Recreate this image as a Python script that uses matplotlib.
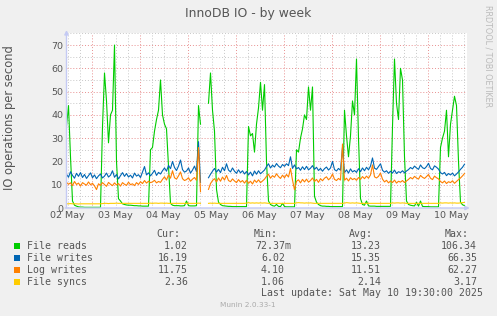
import datetime as dt
import matplotlib
matplotlib.use('Agg')
import matplotlib.pyplot as plt
import matplotlib.dates as mdates
from matplotlib.patches import Rectangle
from matplotlib.ticker import MultipleLocator, FuncFormatter

nan = float('nan')

# hourly samples, first one at 02 May 11:30
START = dt.datetime(2025, 5, 2, 11, 30)
N_HOURS = 200

file_reads = [
    35, 44, 22, 3, 1.2, 0.8, 0.5, 0.4, 0.4, 0.3, 0.3, 0.3, 0.3, 0.3, 0.3, 0.3, 0.3, 0.3, 35, 58, 46, 28, 40, 42,
    70, 20, 4, 3, 1.8, 1.5, 1.3, 1.2, 1.2, 1.1, 1.0, 1.0, 0.9, 0.9, 0.8, 0.8, 0.8, 0.8, 25, 26, 33, 38, 42, 55,
    40, 36, 34, 18, 2, 1.2, 1.0, 1.0, 1.0, 0.9, 0.9, 1.0, 3, 1.0, 0.9, 0.9, 0.9, 1.0, 44, 36, nan, nan, nan, 45,
    58, 42, 33, 8, 2.5, 1.5, 1.0, 0.9, 0.8, 0.7, 0.7, 0.6, 0.6, 0.6, 0.6, 0.6, 0.6, 0.6, 0.6, 35, 31, 32, 24, 36,
    43, 54, 42, 53, 20, 3, 1.5, 1.0, 0.8, 1.5, 0.7, 0.6, 2.0, 0.6, 0.5, 0.5, 0.5, 0.5, 0.5, 25, 24, 30, 34, 40,
    38, 52, 42, 52, 5, 2.5, 1.5, 1.0, 0.8, 0.8, 0.7, 0.7, 0.6, 0.6, 0.6, 0.6, 0.6, 0.6, 0.6, 42, 31, 22, 31, 46,
    40, 64, 30, 4, 1.5, 1.2, 3.0, 0.9, 0.8, 0.8, 0.8, 0.7, 0.7, 0.7, 0.7, 0.7, 0.7, 0.7, 0.7, 35, 64, 45, 38, 60,
    55, 22, 3, 1.5, 1.2, 1.0, 0.9, 2.5, 0.8, 3.0, 0.7, 0.6, 0.6, 0.6, 0.5, 0.5, 0.5, 0.5, 0.5, 26, 30, 33, 42, 22,
    36, 42, 48, 44, 20, 2.5, 1.4, 1.0,
]

file_writes = [
    14.5, 13.2, 15.6, 14.0, 12.8, 14.9, 13.6, 15.2, 13.1, 14.4, 12.7, 13.9, 15.1, 13.0, 14.2, 12.6, 13.8, 14.6, 12.9, 13.7, 15.0, 13.3, 14.1, 16.0,
    13.2, 14.4, 12.5, 13.9, 15.2, 13.6, 14.8, 13.3, 14.1, 12.9, 15.0, 13.7, 14.3, 13.1, 15.4, 17.8, 14.2, 15.1, 13.8, 14.9, 16.2, 14.0, 15.3, 14.6,
    16.0, 17.2, 15.8, 18.3, 16.9, 20.0, 17.4, 16.1, 18.0, 20.6, 16.5, 15.4, 15.9, 17.2, 15.0, 16.3, 18.0, 15.6, 28.5, 11.0, nan, nan, nan, 13.0,
    14.5, 15.8, 17.0, 15.4, 16.6, 15.2, 17.5, 16.0, 19.0, 16.3, 15.5, 17.2, 15.8, 14.9, 16.4, 15.1, 16.0, 14.6, 15.7, 14.2, 15.4, 13.8, 15.9, 14.5,
    16.0, 14.7, 15.5, 16.3, 17.8, 19.0, 17.2, 18.4, 17.6, 19.1, 18.0, 17.3, 18.7, 17.9, 19.0, 18.2, 22.0, 17.0, 18.5, 16.8, 17.4, 16.2, 17.7, 16.5,
    17.9, 16.4, 17.1, 18.2, 16.6, 17.5, 16.1, 17.0, 15.8, 16.9, 17.6, 16.3, 17.2, 20.0, 16.5, 15.9, 17.0, 16.2, 26.0, 15.2, 16.4, 15.0, 16.8, 15.5,
    16.1, 15.3, 16.9, 15.6, 17.2, 16.0, 17.5, 16.4, 18.0, 21.5, 17.1, 16.6, 17.8, 19.0, 16.2, 15.4, 16.0, 14.9, 15.8, 15.0, 16.3, 14.8, 15.6, 15.2,
    16.0, 15.1, 15.9, 16.5, 17.4, 16.8, 18.0, 17.2, 16.6, 18.5, 17.3, 16.9, 17.8, 19.2, 17.0, 16.4, 18.1, 17.5, 16.7, 15.2, 14.6, 15.3, 13.9, 14.8,
    14.2, 15.0, 13.8, 14.6, 15.5, 16.6, 17.5, 18.8,
]

log_writes = [
    11.0, 10.2, 10.8, 9.6, 11.4, 10.1, 10.7, 9.4, 10.9, 10.3, 9.8, 11.2, 10.0, 10.6, 9.5, 7.9, 10.4, 9.7, 10.9, 10.1, 9.3, 11.0, 10.2, 9.6,
    10.8, 9.9, 10.5, 9.4, 10.9, 10.2, 9.7, 11.1, 10.0, 10.4, 9.6, 10.9, 10.1, 11.3, 10.5, 11.8, 10.7, 11.5, 10.9, 11.2, 11.9, 10.8, 11.4, 11.0,
    12.3, 13.4, 12.0, 14.2, 12.8, 16.0, 13.0, 12.4, 13.8, 15.5, 12.6, 11.8, 12.2, 13.0, 11.5, 12.4, 13.1, 11.9, 26.0, 7.0, nan, nan, nan, 8.0,
    10.5, 11.8, 12.6, 11.2, 12.9, 11.5, 13.3, 12.0, 14.0, 11.8, 11.3, 12.5, 11.6, 10.9, 12.2, 11.1, 11.8, 10.7, 11.9, 10.6, 11.5, 10.3, 12.0, 11.0,
    12.1, 10.9, 11.6, 12.4, 13.6, 14.5, 12.8, 13.9, 13.2, 14.7, 13.5, 12.7, 14.1, 13.0, 14.4, 13.3, 17.0, 12.0, 7.8, 11.5, 12.1, 10.8, 12.3, 11.2,
    12.4, 11.1, 11.8, 12.9, 11.4, 12.3, 11.0, 12.6, 11.7, 12.8, 13.4, 12.1, 12.9, 14.6, 12.3, 11.8, 12.7, 12.0, 27.5, 11.9, 12.8, 11.6, 13.0, 12.2,
    12.7, 11.9, 13.1, 12.3, 13.5, 12.6, 13.7, 12.8, 14.2, 18.5, 13.4, 12.9, 13.6, 15.0, 12.4, 11.2, 11.9, 10.8, 11.6, 10.9, 12.0, 10.7, 11.5, 11.1,
    11.8, 10.9, 11.6, 12.3, 13.1, 12.5, 13.6, 12.9, 12.4, 14.0, 13.2, 12.7, 13.5, 14.4, 12.8, 12.2, 13.7, 13.0, 12.5, 11.4, 10.8, 11.6, 10.5, 11.3,
    10.9, 11.7, 10.6, 11.4, 12.2, 12.9, 13.8, 14.8,
]

file_syncs = [
    1.8, 1.8, 1.9, 1.8, 1.8, 1.8, 1.7, 1.8, 1.8, 1.8, 1.8, 1.8, 1.8, 1.8, 1.8, 1.8, 1.8, 1.8, 1.9, 2.0, 2.0, 1.9, 2.0, 2.0,
    2.0, 2.1, 2.0, 2.0, 2.0, 2.0, 2.0, 2.0, 2.0, 2.0, 2.0, 2.0, 2.0, 2.0, 2.0, 2.0, 2.0, 2.0, 2.1, 2.0, 2.1, 2.1, 2.0, 2.1,
    2.1, 2.0, 2.1, 2.0, 2.0, 2.0, 2.0, 2.0, 2.0, 2.0, 2.0, 2.0, 2.0, 2.0, 2.0, 2.0, 2.0, 2.0, 2.1, 2.0, nan, nan, nan, 2.0,
    2.1, 2.0, 2.1, 2.0, 2.0, 2.0, 2.0, 2.0, 2.0, 2.0, 2.0, 2.0, 2.0, 2.0, 2.0, 2.0, 2.0, 2.0, 2.1, 2.3, 2.1, 2.2, 2.1, 2.2,
    2.1, 2.2, 2.1, 2.2, 2.1, 2.0, 2.0, 2.0, 2.0, 2.0, 2.0, 2.0, 2.0, 2.0, 2.0, 2.0, 2.0, 2.0, 2.0, 2.2, 2.3, 2.2, 2.2, 2.1,
    2.2, 2.1, 2.2, 2.1, 2.0, 2.0, 2.0, 2.0, 2.0, 2.0, 2.0, 2.0, 2.0, 2.0, 2.0, 2.0, 2.0, 2.0, 2.0, 2.1, 2.3, 2.2, 2.1, 2.2,
    2.1, 2.2, 2.1, 2.0, 2.0, 2.0, 2.0, 2.0, 2.0, 2.0, 2.0, 2.0, 2.0, 2.0, 2.0, 2.0, 2.0, 2.0, 2.0, 2.2, 2.1, 2.2, 2.2, 2.1,
    2.2, 2.1, 2.0, 2.0, 2.0, 2.0, 2.0, 2.0, 2.0, 2.0, 2.0, 2.0, 2.0, 2.0, 2.0, 2.0, 2.0, 2.0, 2.0, 2.2, 2.1, 2.2, 2.2, 2.1,
    2.2, 2.1, 2.2, 2.1, 2.1, 2.2, 2.3, 2.4,
]

series_names = ['File reads', 'File writes', 'Log writes', 'File syncs']
series_colors = ['#00CC00', '#0066B3', '#FF8000', '#FFCC00']
cur_vals = ['1.02', '16.19', '11.75', '2.36']
min_vals = ['72.37m', '6.02', '4.10', '1.06']
avg_vals = ['13.23', '15.35', '11.51', '2.14']
max_vals = ['106.34', '66.35', '62.27', '3.17']

W, H = 497, 316
TXT = '#555555'


def fx(x):
    return x / W


def fy(y):
    return 1 - y / H


times = [START + dt.timedelta(hours=h) for h in range(N_HOURS)]

fig = plt.figure(figsize=(W / 100, H / 100), dpi=100, facecolor='#F0F0F0')
ax = fig.add_axes([fx(66.5), fy(208), 400 / W, 174.6 / H])
ax.set_facecolor('white')

for vals, col in zip([file_reads, file_writes, log_writes, file_syncs], series_colors):
    ax.plot(times, vals, color=col, lw=0.8, solid_joinstyle='round')

ax.set_xlim(START, START + dt.timedelta(hours=N_HOURS))
ax.set_ylim(0, 75)

# grid: red at day / every 10, grey at 6h / every 5
ax.xaxis.set_major_locator(mdates.DayLocator())
ax.xaxis.set_minor_locator(mdates.HourLocator(byhour=[6, 12, 18]))
ax.xaxis.set_major_formatter(FuncFormatter(lambda v, p: ''))
ax.xaxis.set_minor_formatter(FuncFormatter(
    lambda v, p: mdates.num2date(v).strftime('%d %b') if mdates.num2date(v).hour == 12 else ''))
ax.yaxis.set_major_locator(MultipleLocator(10))
ax.yaxis.set_minor_locator(MultipleLocator(5))
ax.yaxis.set_minor_formatter(FuncFormatter(lambda v, p: ''))

dots = (0, (1, 2))
ax.grid(which='major', color='#E89090', lw=0.7, linestyle=dots)
ax.grid(which='minor', color='#C8C8C8', lw=0.7, linestyle=dots)
ax.set_axisbelow(True)
ax.tick_params(which='both', length=0, labelsize=6.8, colors=TXT)
ax.tick_params(axis='y', pad=2.5)
ax.tick_params(axis='x', which='minor', pad=2)

for s in ax.spines.values():
    s.set_visible(False)
axis_col = '#C4CAF4'
ax.annotate('', xy=(0, 1.035), xytext=(0, -0.015), xycoords='axes fraction',
            arrowprops=dict(arrowstyle='-|>', color=axis_col, lw=1, mutation_scale=6))
ax.annotate('', xy=(1.015, 0), xytext=(-0.01, 0), xycoords='axes fraction',
            arrowprops=dict(arrowstyle='-|>', color=axis_col, lw=1, mutation_scale=6))

fig.text(0.5, fy(14), 'InnoDB IO - by week', ha='center', va='center', fontsize=8.9, color=TXT)
fig.text(fx(10), fy(118), 'IO operations per second', rotation=90, ha='center', va='center',
         fontsize=8.3, color=TXT)
fig.text(fx(488), fy(56), 'RRDTOOL / TOBI OETIKER', rotation=270, ha='center', va='center',
         fontsize=5.8, color='#BBBBBB')

# legend block
mono = dict(family='DejaVu Sans Mono', fontsize=7.1, color=TXT, va='center')
for label, xr in zip(['Cur:', 'Min:', 'Avg:', 'Max:'], [180, 278, 373, 469]):
    fig.text(fx(xr), fy(234), label, ha='right', **mono)

for i, name in enumerate(series_names):
    y = 245.7 + 12 * i
    fig.patches.append(Rectangle((fx(14), fy(y + 3)), 6 / W, 6 / H, transform=fig.transFigure,
                                 facecolor=series_colors[i], edgecolor='none'))
    fig.text(fx(26.7), fy(y), name, ha='left', **mono)
    fig.text(fx(188), fy(y), cur_vals[i], ha='right', **mono)
    mx = 291 if min_vals[i].endswith('m') else 285
    fig.text(fx(mx), fy(y), min_vals[i], ha='right', **mono)
    fig.text(fx(381), fy(y), avg_vals[i], ha='right', **mono)
    fig.text(fx(477), fy(y), max_vals[i], ha='right', **mono)

fig.text(fx(482.7), fy(293), 'Last update: Sat May 10 19:30:00 2025', ha='right', **mono)
fig.text(fx(248), fy(305), 'Munin 2.0.33-1', ha='center', va='center', fontsize=5.3, color='#AAAAAA')

fig.savefig('out.png', dpi=100, facecolor=fig.get_facecolor())
